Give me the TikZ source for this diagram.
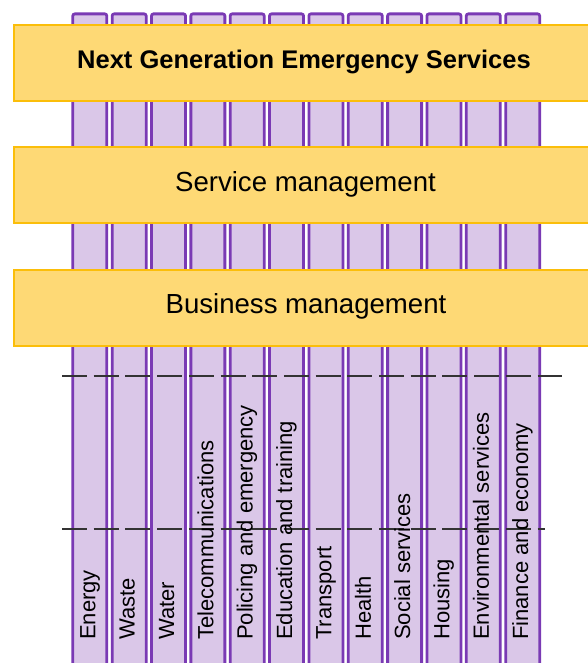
\documentclass[tikz,border=0pt]{standalone}
\usepackage{fontspec}
\setmainfont{Liberation Sans}
\definecolor{bandfill}{RGB}{254,217,117}
\definecolor{bandline}{RGB}{251,190,10}
\definecolor{sectorfill}{RGB}{218,199,232}
\definecolor{sectorline}{RGB}{122,58,180}
\tikzset{
	sector/.style={draw=sectorline, fill=sectorfill, line width=2.8pt, rounded corners=2pt,
		minimum width=34pt, minimum height=700pt, inner sep=0pt, anchor=north},
	band/.style={draw=bandline, fill=bandfill, line width=2pt, minimum width=620pt,
		minimum height=76pt, inner sep=0pt, anchor=north west},
	divider/.style={line width=1.8pt, color=black!80, dash pattern=on 25pt off 6.7pt},
	sectorlabel/.style={rotate=90, anchor=west, inner sep=0pt, text height=15.5pt,
		text depth=4.5pt, font=\fontsize{22}{26}\selectfont},
	bandlabel/.style={inner sep=0pt, font=\fontsize{27.6}{32}\selectfont}
}
\begin{document}
\begin{tikzpicture}[x=1pt,y=-1pt]
		\useasboundingbox (0,0) rectangle (588,663);
		
		% sector columns
		\foreach \name [count=\i from 0] in {Energy, Waste, Water, Telecommunications,
			Policing and emergency, Education and training, Transport, Health,
			Social services, Housing, Environmental services, Finance and economy}
		{
			\node [sector] (col\i) at (89.8+39.35*\i,12.5) {};
		}
		
		% dashed dividers
		\draw [divider] (62,376) -- (562,376);
		\draw [divider] (62,529) -- (545,529);
		
		% horizontal layers
		\node [band] (ngband) at (13,24) {};
		\node [band] (smband) at (13,146) {};
		\node [band] (bmband) at (13,269) {};
		
		\node [bandlabel, font=\fontsize{25.5}{30}\selectfont\bfseries] (ng) at (304,62) {Next Generation Emergency Services};
		\node [bandlabel] (sm) at (305.5,184) {Service management};
		\node [bandlabel] (bm) at (306,306) {Business management};
		
		% sector names
		\foreach \name [count=\i from 0] in {Energy, Waste, Water, Telecommunications,
			Policing and emergency, Education and training, Transport, Health,
			Social services, Housing, Environmental services, Finance and economy}
		{
			\node [sectorlabel] (lbl\i) at (89.8+39.35*\i,640) {\name};
		}
	\end{tikzpicture}
\end{document}
